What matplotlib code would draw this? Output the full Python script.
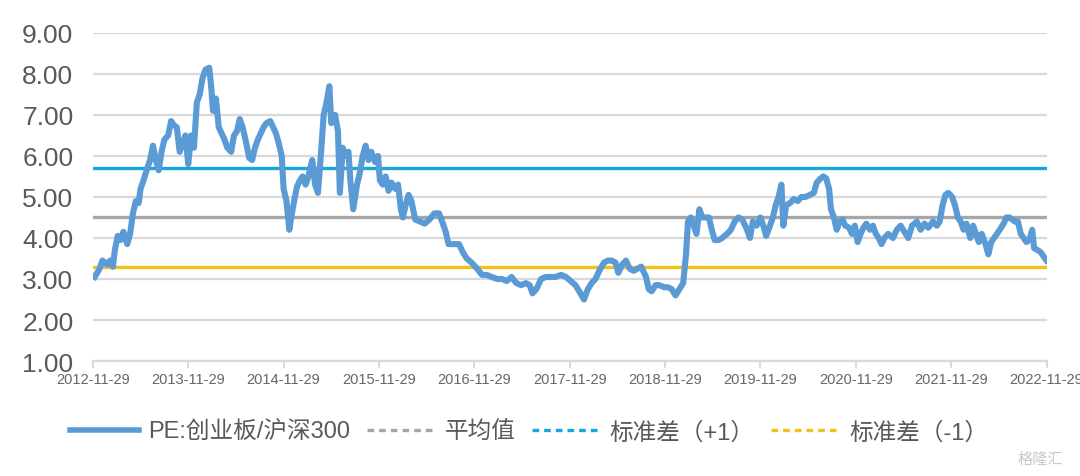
import matplotlib.pyplot as plt
from matplotlib.lines import Line2D

plt.rcParams['font.family'] = ['Liberation Sans', 'Noto Sans CJK SC', 'DejaVu Sans']

# PE ratio ChiNext / CSI300, time as decimal year
years = [
    2012.93, 2012.98, 2013.01, 2013.06, 2013.09, 2013.12, 2013.14, 2013.17, 2013.20, 2013.23,
    2013.27, 2013.30, 2013.33, 2013.36, 2013.39, 2013.41, 2013.44, 2013.48, 2013.51, 2013.54,
    2013.57, 2013.60, 2013.63, 2013.66, 2013.70, 2013.73, 2013.76, 2013.79, 2013.82, 2013.85,
    2013.88, 2013.91, 2013.94, 2013.97, 2014.00, 2014.03, 2014.06, 2014.09, 2014.13, 2014.15,
    2014.17, 2014.20, 2014.23, 2014.26, 2014.29, 2014.32, 2014.36, 2014.39, 2014.42, 2014.45,
    2014.48, 2014.51, 2014.55, 2014.58, 2014.61, 2014.64, 2014.67, 2014.70, 2014.73, 2014.77,
    2014.80, 2014.83, 2014.86, 2014.89, 2014.91, 2014.94, 2014.97, 2014.99, 2015.02, 2015.05,
    2015.08, 2015.11, 2015.14, 2015.17, 2015.21, 2015.24, 2015.27, 2015.30, 2015.33, 2015.36,
    2015.39, 2015.41, 2015.45, 2015.48, 2015.50, 2015.53, 2015.56, 2015.59, 2015.61, 2015.64,
    2015.68, 2015.71, 2015.74, 2015.77, 2015.80, 2015.83, 2015.87, 2015.90, 2015.92, 2015.95,
    2015.98, 2016.01, 2016.04, 2016.08, 2016.11, 2016.14, 2016.16, 2016.19, 2016.22, 2016.25,
    2016.29, 2016.34, 2016.39, 2016.44, 2016.49, 2016.54, 2016.58, 2016.61, 2016.64, 2016.69,
    2016.75, 2016.79, 2016.83, 2016.88, 2016.94, 2016.99, 2017.04, 2017.09, 2017.15, 2017.20,
    2017.25, 2017.30, 2017.35, 2017.40, 2017.45, 2017.49, 2017.52, 2017.56, 2017.61, 2017.66,
    2017.71, 2017.76, 2017.82, 2017.87, 2017.92, 2017.97, 2018.01, 2018.06, 2018.10, 2018.14,
    2018.18, 2018.22, 2018.27, 2018.31, 2018.35, 2018.39, 2018.42, 2018.46, 2018.50, 2018.54,
    2018.58, 2018.62, 2018.66, 2018.71, 2018.74, 2018.77, 2018.81, 2018.85, 2018.90, 2018.94,
    2018.98, 2019.02, 2019.06, 2019.10, 2019.13, 2019.15, 2019.18, 2019.21, 2019.24, 2019.27,
    2019.30, 2019.34, 2019.37, 2019.40, 2019.43, 2019.47, 2019.51, 2019.56, 2019.60, 2019.64,
    2019.68, 2019.72, 2019.77, 2019.80, 2019.83, 2019.87, 2019.91, 2019.94, 2019.97, 2020.01,
    2020.04, 2020.07, 2020.10, 2020.13, 2020.15, 2020.18, 2020.22, 2020.26, 2020.30, 2020.34,
    2020.38, 2020.43, 2020.47, 2020.50, 2020.54, 2020.57, 2020.60, 2020.63, 2020.65, 2020.68,
    2020.71, 2020.74, 2020.77, 2020.80, 2020.84, 2020.87, 2020.90, 2020.93, 2020.96, 2020.99,
    2021.02, 2021.06, 2021.09, 2021.12, 2021.15, 2021.18, 2021.21, 2021.25, 2021.30, 2021.34,
    2021.38, 2021.42, 2021.46, 2021.50, 2021.55, 2021.59, 2021.63, 2021.67, 2021.72, 2021.76,
    2021.79, 2021.82, 2021.85, 2021.88, 2021.92, 2021.95, 2021.98, 2022.01, 2022.04, 2022.07,
    2022.11, 2022.14, 2022.17, 2022.20, 2022.23, 2022.27, 2022.30, 2022.33, 2022.36, 2022.39,
    2022.42, 2022.46, 2022.49, 2022.52, 2022.55, 2022.58, 2022.61, 2022.64, 2022.67, 2022.70,
    2022.73, 2022.76, 2022.78, 2022.82, 2022.85, 2022.88, 2022.91,
]
pe = [
    3.05, 3.25, 3.45, 3.35, 3.45, 3.30, 3.70, 4.05, 3.95, 4.15,
    3.85, 4.10, 4.60, 4.90, 4.85, 5.20, 5.40, 5.70, 5.90, 6.25,
    5.90, 5.65, 6.10, 6.40, 6.50, 6.85, 6.75, 6.70, 6.10, 6.30,
    6.50, 5.80, 6.50, 6.20, 7.30, 7.50, 7.90, 8.10, 8.15, 7.70,
    7.10, 7.40, 6.70, 6.55, 6.40, 6.20, 6.10, 6.50, 6.60, 6.90,
    6.70, 6.40, 5.95, 5.90, 6.20, 6.40, 6.55, 6.70, 6.80, 6.85,
    6.70, 6.55, 6.30, 6.00, 5.20, 4.90, 4.20, 4.50, 4.90, 5.25,
    5.40, 5.50, 5.30, 5.50, 5.90, 5.30, 5.10, 6.00, 7.00, 7.30,
    7.70, 6.80, 7.00, 6.60, 5.10, 6.20, 6.00, 6.10, 5.40, 4.70,
    5.30, 5.60, 6.00, 6.25, 5.90, 6.10, 5.85, 6.00, 5.40, 5.30,
    5.50, 5.15, 5.35, 5.20, 5.30, 4.70, 4.50, 4.80, 5.05, 4.90,
    4.45, 4.40, 4.35, 4.45, 4.60, 4.60, 4.35, 4.15, 3.85, 3.85,
    3.85, 3.65, 3.50, 3.40, 3.25, 3.10, 3.10, 3.05, 3.00, 3.00,
    2.95, 3.05, 2.90, 2.85, 2.90, 2.85, 2.65, 2.75, 3.00, 3.05,
    3.05, 3.05, 3.10, 3.05, 2.95, 2.85, 2.70, 2.50, 2.75, 2.90,
    3.00, 3.20, 3.40, 3.45, 3.45, 3.40, 3.15, 3.35, 3.45, 3.25,
    3.20, 3.25, 3.30, 3.05, 2.75, 2.70, 2.85, 2.85, 2.80, 2.80,
    2.75, 2.60, 2.75, 2.90, 3.60, 4.40, 4.50, 4.30, 4.10, 4.70,
    4.50, 4.50, 4.50, 4.20, 3.95, 3.95, 4.00, 4.10, 4.20, 4.40,
    4.50, 4.45, 4.20, 4.00, 4.40, 4.30, 4.50, 4.30, 4.05, 4.30,
    4.50, 4.80, 5.00, 5.30, 4.30, 4.80, 4.85, 4.95, 4.90, 5.00,
    5.00, 5.05, 5.10, 5.35, 5.45, 5.50, 5.45, 5.20, 4.70, 4.50,
    4.20, 4.40, 4.45, 4.30, 4.25, 4.10, 4.30, 3.90, 4.10, 4.25,
    4.35, 4.20, 4.30, 4.10, 4.00, 3.85, 4.00, 4.10, 4.00, 4.20,
    4.30, 4.15, 4.00, 4.30, 4.40, 4.20, 4.35, 4.25, 4.40, 4.30,
    4.40, 4.80, 5.05, 5.10, 5.00, 4.80, 4.50, 4.40, 4.20, 4.35,
    4.00, 4.30, 4.10, 3.90, 4.10, 3.85, 3.60, 3.90, 4.00, 4.10,
    4.20, 4.35, 4.50, 4.50, 4.45, 4.40, 4.40, 4.10, 4.00, 3.90,
    3.95, 4.20, 3.75, 3.70, 3.65, 3.55, 3.45,
]

mean_pe = 4.51
std_plus = 5.71
std_minus = 3.29

tick_years = [2012.91 + k for k in range(11)]
tick_labels = ['%d-11-29' % (2012 + k) for k in range(11)]

fig = plt.figure(figsize=(10.8, 4.77), dpi=100)
ax = fig.add_axes([0.086, 0.241, 0.883, 0.688])

ax.plot(years, pe, color='#5b9bd5', lw=4.4, solid_joinstyle='round', zorder=3)
ax.axhline(mean_pe, color='#a6a6a6', lw=2.4, zorder=2)
ax.axhline(std_plus, color='#17a7dd', lw=2.4, zorder=2)
ax.axhline(std_minus, color='#f2c21b', lw=2.4, zorder=2)

ax.set_xlim(tick_years[0], tick_years[-1])
ax.set_ylim(1, 9)
ax.set_yticks([1, 2, 3, 4, 5, 6, 7, 8, 9])
ax.set_yticklabels(['%.2f' % v for v in range(1, 10)])
ax.set_xticks(tick_years)
ax.set_xticklabels(tick_labels)

ax.grid(axis='y', color='#d9d9d9', lw=1.6)
ax.set_axisbelow(True)
for s in ['top', 'right', 'left']:
    ax.spines[s].set_visible(False)
ax.spines['bottom'].set_color('#d9d9d9')
ax.spines['bottom'].set_linewidth(1.6)

ax.tick_params(axis='y', length=0, labelsize=19, labelcolor='#595959', pad=14)
ax.tick_params(axis='x', length=5, width=1.4, color='#d9d9d9', labelsize=10.5,
               labelcolor='#666666', pad=3)

# legend (dashed handles for the reference lines)
handles = [
    Line2D([], [], color='#5b9bd5', lw=4),
    Line2D([], [], color='#a6a6a6', lw=2.4, ls=(0, (2, 1.5))),
    Line2D([], [], color='#17a7dd', lw=2.4, ls=(0, (2, 1.5))),
    Line2D([], [], color='#f2c21b', lw=2.4, ls=(0, (2, 1.5))),
]
labels = ['PE:创业板/沪深300', '平均值', '标准差（+1）', '标准差（-1）']
leg = fig.legend(handles, labels, loc='center', bbox_to_anchor=(0.49, 0.092), ncol=4,
                 frameon=False, fontsize=17, handlelength=2.9, handletextpad=0.4,
                 columnspacing=0.7)
for t in leg.get_texts():
    t.set_color('#595959')

fig.text(0.985, 0.035, '格隆汇', ha='right', va='center', fontsize=11, color='#c8c8c8')

plt.savefig('out.png', dpi=100)
